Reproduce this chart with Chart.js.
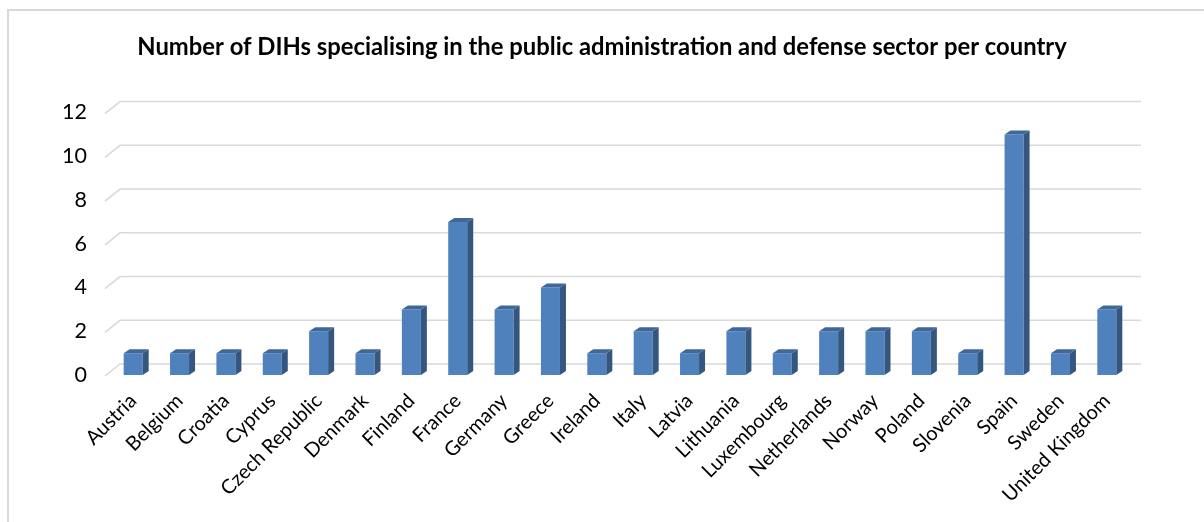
<!DOCTYPE html>
<html>
<head>
<meta charset="utf-8">
<script src="https://cdn.jsdelivr.net/npm/chart.js@4.4.1/dist/chart.umd.min.js"></script>
<style>
    html, body { margin: 0; padding: 0; background: #fff; }
    #wrap { position: relative; width: 1204px; height: 522px; overflow: hidden; }
    #frame {
        position: absolute; left: 7px; top: 9px; width: 1400px; height: 700px;
        border-left: 2px solid #d9d9d9; border-top: 2px solid #d9d9d9;
    }
    #dihChart { position: absolute; left: 0; top: 0; }
</style>
</head>
<body>
<div id="wrap">
    <div id="frame"></div>
    <canvas id="dihChart" width="1204" height="522"></canvas>
</div>
<script>
// Données du graphique
const countries = ['Austria', 'Belgium', 'Croatia', 'Cyprus', 'Czech Republic', 'Denmark', 'Finland',
    'France', 'Germany', 'Greece', 'Ireland', 'Italy', 'Latvia', 'Lithuania', 'Luxembourg',
    'Netherlands', 'Norway', 'Poland', 'Slovenia', 'Spain', 'Sweden', 'United Kingdom'];
const dihCounts = [1, 1, 1, 1, 2, 1, 3, 7, 3, 4, 1, 2, 1, 2, 1, 2, 2, 2, 1, 11, 1, 3];
const yTicks = [0, 2, 4, 6, 8, 10, 12];

const FONT = 'Lato, "Open Sans", sans-serif';

// Grille "3D" façon Excel : diagonale à gauche + ligne sur le plan arrière
const grid3d = {
    id: 'grid3d',
    beforeDatasetsDraw(chart) {
        const { ctx, chartArea, scales } = chart;
        ctx.save();
        ctx.strokeStyle = '#d9d9d9';
        ctx.lineWidth = 1.6;
        yTicks.forEach(v => {
            const y = scales.y.getPixelForValue(v);
            ctx.beginPath();
            ctx.moveTo(chartArea.left - 5, y + 1);
            ctx.lineTo(chartArea.left + 10, y - 11);
            ctx.lineTo(chartArea.right + 11, y - 11);
            ctx.stroke();
        });
        ctx.restore();
    }
};

// Faces latérales et supérieures des barres
const bars3d = {
    id: 'bars3d',
    afterDatasetsDraw(chart) {
        const { ctx } = chart;
        const dx = 6, dy = -4;
        ctx.save();
        chart.getDatasetMeta(0).data.forEach(bar => {
            const left = bar.x - bar.width / 2;
            const right = bar.x + bar.width / 2;
            const top = bar.y;
            const bottom = bar.base;
            // côté
            ctx.fillStyle = '#35577f';
            ctx.beginPath();
            ctx.moveTo(right, top);
            ctx.lineTo(right + dx, top + dy);
            ctx.lineTo(right + dx, bottom + dy);
            ctx.lineTo(right, bottom);
            ctx.closePath();
            ctx.fill();
            // dessus
            ctx.fillStyle = '#3f679a';
            ctx.beginPath();
            ctx.moveTo(left, top);
            ctx.lineTo(left + dx, top + dy);
            ctx.lineTo(right + dx, top + dy);
            ctx.lineTo(right, top);
            ctx.closePath();
            ctx.fill();
        });
        ctx.restore();
    }
};

const ctx = document.getElementById('dihChart').getContext('2d');

const chartData = {
    labels: countries,
    datasets: [{
        label: 'DIHs',
        data: dihCounts,
        backgroundColor: '#4f81bd',
        borderWidth: 0,
        barPercentage: 0.41,
        categoryPercentage: 1
    }]
};

const config = {
    type: 'bar',
    data: chartData,
    plugins: [grid3d, bars3d],
    options: {
        responsive: false,
        animation: false,
        layout: {
            padding: 0
        },
        plugins: {
            legend: { display: false },
            tooltip: { enabled: false },
            title: {
                display: true,
                text: 'Number of DIHs specialising in the public administration and defense sector per country',
                color: '#000',
                font: { family: FONT, size: 23.8, weight: 'bold' },
                padding: { top: 33, bottom: 51 }
            }
        },
        scales: {
            y: {
                min: 0,
                max: 12,
                afterFit(scale) { scale.width = 110; },
                ticks: {
                    stepSize: 2,
                    padding: 15,
                    color: '#000',
                    font: { family: FONT, size: 21.5 }
                },
                grid: { display: false },
                border: { display: false }
            },
            // axe vide à droite pour garder le titre centré
            yRight: {
                position: 'right',
                min: 0,
                max: 12,
                afterFit(scale) { scale.width = 74; },
                ticks: { display: false },
                grid: { display: false },
                border: { display: false }
            },
            x: {
                afterFit(scale) { scale.height = 147; },
                ticks: {
                    autoSkip: false,
                    minRotation: 45,
                    maxRotation: 45,
                    padding: 6,
                    color: '#000',
                    font: { family: FONT, size: 20 }
                },
                grid: { display: false },
                border: { display: false }
            }
        }
    }
};

const myChart = new Chart(ctx, config);
</script>
</body>
</html>
